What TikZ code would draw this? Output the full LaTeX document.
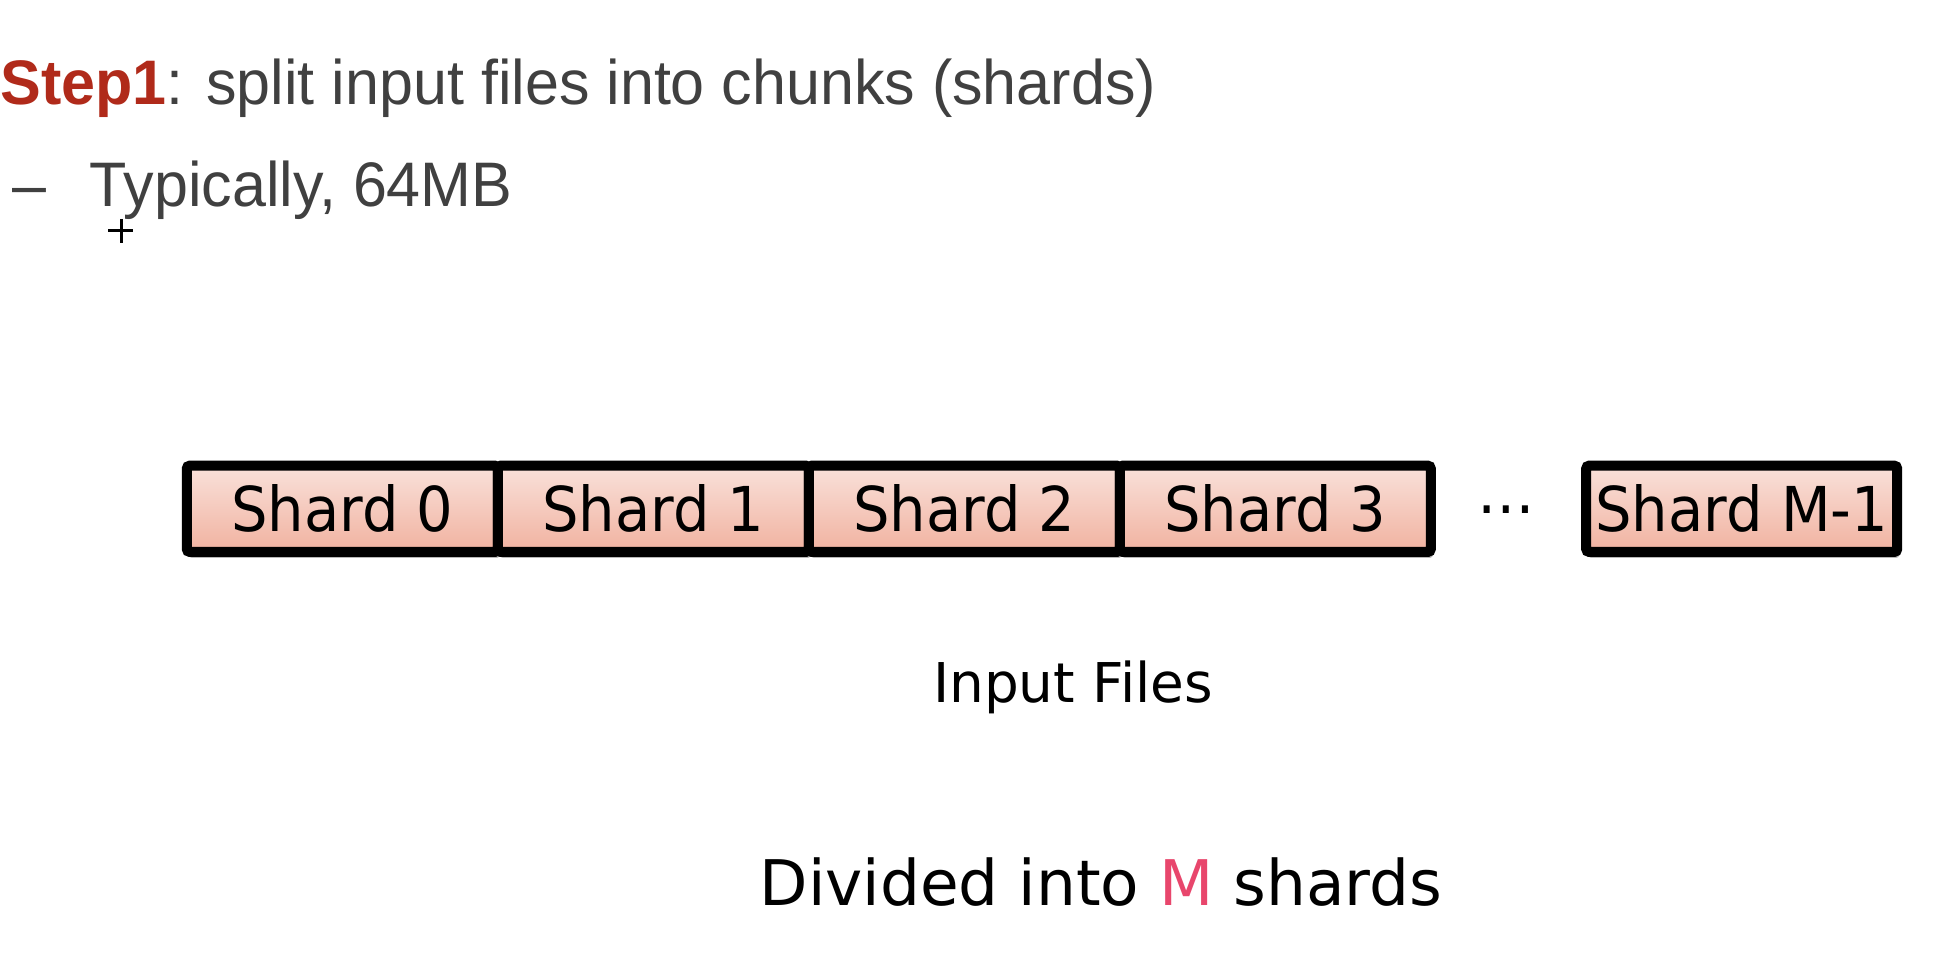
\documentclass[tikz,border=0pt]{standalone}
\usepackage{fontspec}
\setmainfont{DejaVu Sans}
\newfontfamily\headfont[FakeStretch=0.97]{Liberation Sans}
\newfontfamily\shardfont[FakeStretch=0.93]{DejaVu Sans}
\usetikzlibrary{positioning,shadows}
\definecolor{headgray}{HTML}{404040}
\definecolor{stepred}{HTML}{B02A1A}
\definecolor{shardtop}{HTML}{F9E1DA}
\definecolor{shardbot}{HTML}{F1B2A0}
\definecolor{mpink}{HTML}{E8466C}
\tikzset{
  heading/.style = {anchor=base west, inner sep=0pt, text=headgray,
                    font=\headfont\fontsize{17.9pt}{20pt}\selectfont},
  shard/.style   = {shape=rectangle, draw=black, line width=1mm,
                    rounded corners=0.3mm, inner sep=0pt, outer sep=0pt,
                    minimum width=31.1mm, minimum height=8.63mm,
                    top color=shardtop, bottom color=shardbot,
                    drop shadow={shadow xshift=0.2mm, shadow yshift=-0.6mm,
                                 opacity=0.4, fill=black!70},
                    font=\shardfont\fontsize{17.6pt}{20pt}\selectfont},
  caption/.style = {anchor=base, inner sep=0pt,
                    font=\fontsize{15.6pt}{18pt}\selectfont}
}
\begin{document}
\begin{tikzpicture}[x=0.1mm, y=-0.1mm]
  \useasboundingbox (0,0) rectangle (1934,972);

  \node [heading] (step) at (0,105)
    {{\color{stepred}\bfseries Step1}: split input files into chunks (shards)};
  \node [heading] (dash) at (12,207) {–};
  \node [heading] (typical) at (89,207) {Typically, 64MB};
  \draw [line width=0.3mm] (108,231) -- (133,231) (121,219) -- (121,243);

  \node [shard] (s0) at (342.3,508.8) {Shard 0};
  \foreach \i [remember=\i as \last (initially 0)] in {1,2,3}
    \node [shard, right=0pt of s\last] (s\i) {Shard \i};
  \node [shard] (sM) at (1741.7,508.8) {Shard M-1};
  \node [anchor=base, inner sep=0pt,
         font=\shardfont\fontsize{17.6pt}{20pt}\selectfont] (dots) at (1506,513) {…};

  \node [caption] (input) at (1073,702) {Input Files};
  \node [caption, font=\fontsize{17.9pt}{20pt}\selectfont] (divided) at (1101,905)
    {Divided into {\color{mpink}M} shards};
\end{tikzpicture}
\end{document}
